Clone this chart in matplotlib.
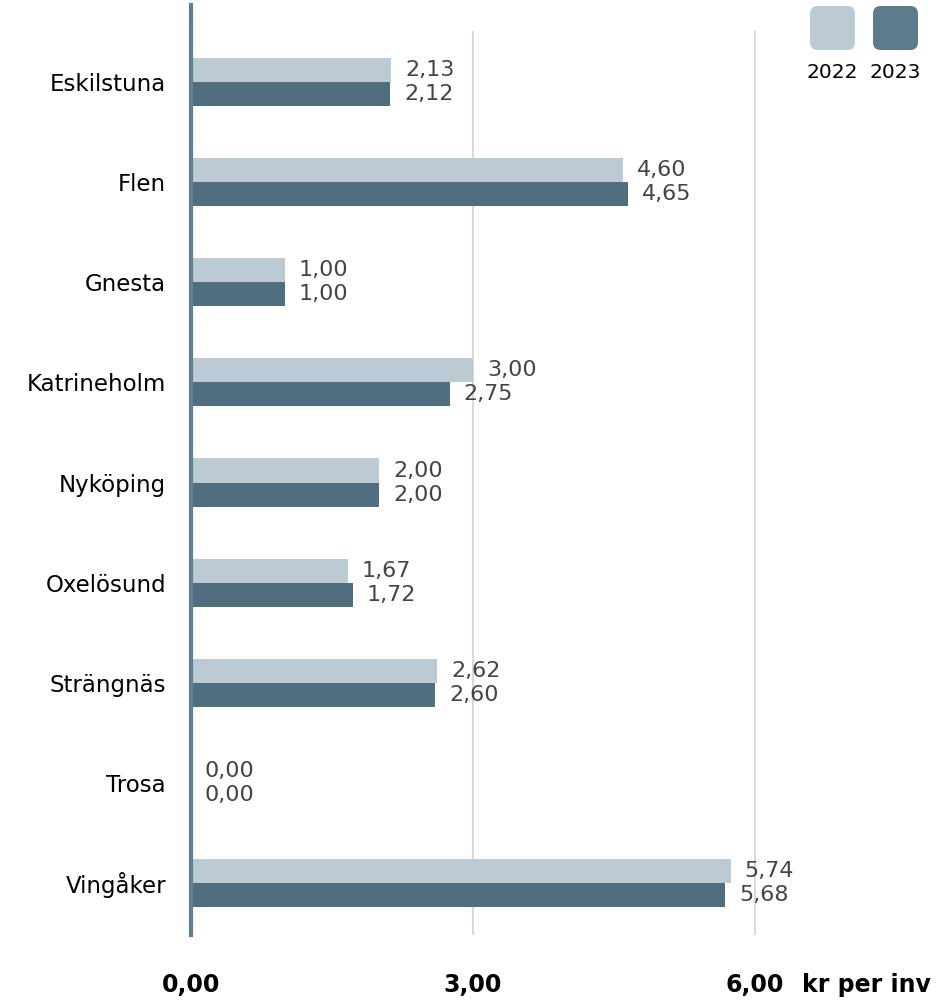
import matplotlib.pyplot as plt
from matplotlib.patches import FancyBboxPatch
from matplotlib.transforms import offset_copy
import numpy as np

plt.rcParams['font.family'] = ['DejaVu Sans']

kommuner = ['Eskilstuna', 'Flen', 'Gnesta', 'Katrineholm', 'Nyköping',
            'Oxelösund', 'Strängnäs', 'Trosa', 'Vingåker']
varden_2022 = [2.13, 4.60, 1.00, 3.00, 2.00, 1.67, 2.62, 0.00, 5.74]
varden_2023 = [2.12, 4.65, 1.00, 2.75, 2.00, 1.72, 2.60, 0.00, 5.68]
ar = ['2022', '2023']
x_ticks = [0, 3, 6]
x_ticklabels = ['0,00', '3,00', '6,00']
enhet = 'kr per inv'

ljus = '#bccbd3'
mork = '#506e80'
axel = '#5f7f90'

fig = plt.figure(figsize=(9.44, 10), dpi=100)
ax = fig.add_axes([191 / 944, 0.065, 658 / 944, 0.93])

y = np.arange(len(kommuner))
h = 0.24
ax.barh(y - h / 2, varden_2022, height=h, color=ljus, zorder=2)
ax.barh(y + h / 2, varden_2023, height=h, color=mork, zorder=2)

ax.set_xlim(0, 7)
ax.set_ylim(len(kommuner) - 1 + 0.52, -0.77)

# gridlines stop a bit below the top of the axis line
top_frac = (935 - 32) / 930
for xv in x_ticks[1:]:
    ax.axvline(xv, ymin=0, ymax=top_frac, color='#d9d9d9', lw=1.5, zorder=1)

for s in ['top', 'right', 'bottom']:
    ax.spines[s].set_visible(False)
ax.spines['left'].set_color(axel)
ax.spines['left'].set_linewidth(3)
ax.spines['left'].set_zorder(3)

ax.set_yticks(y)
ax.set_yticklabels(kommuner, fontsize=16.5, color='black')
ax.tick_params(axis='y', length=0, pad=18)
ax.set_xticks([])

fmt = lambda v: f'{v:.2f}'.replace('.', ',')
off = offset_copy(ax.transData, fig=fig, x=14, y=0, units='dots')
for i in range(len(kommuner)):
    ax.text(varden_2022[i], y[i] - h / 2, fmt(varden_2022[i]), transform=off,
            ha='left', va='center', fontsize=16, color='#444444')
    ax.text(varden_2023[i], y[i] + h / 2, fmt(varden_2023[i]), transform=off,
            ha='left', va='center', fontsize=16, color='#444444')

# x tick labels below the plot
for xv, lab in zip(x_ticks, x_ticklabels):
    xf = (191 + xv * 94) / 944
    fig.text(xf, 1 - 985 / 1000, lab, ha='center', va='center',
             fontsize=17, fontweight='bold', color='black')
fig.text(802 / 944, 1 - 985 / 1000, enhet, ha='left', va='center',
         fontsize=17, fontweight='bold', color='black')

# legend with rounded swatches
for x0, col, lab in [(810, ljus, ar[0]), (873, '#5c7c8e', ar[1])]:
    sw = FancyBboxPatch((x0 / 944, 1 - 50 / 1000), 45 / 944, 44 / 1000,
                        boxstyle='round,pad=0,rounding_size=0.008',
                        transform=fig.transFigure, facecolor=col,
                        edgecolor='none')
    fig.patches.append(sw)
    fig.text((x0 + 22.5) / 944, 1 - 73 / 1000, lab, ha='center', va='center',
             fontsize=14.5, color='black')

fig.savefig('out.png', dpi=100)
